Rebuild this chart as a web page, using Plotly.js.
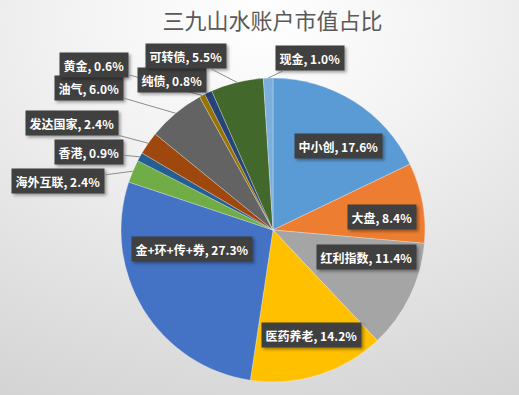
<!DOCTYPE html>
<html>
<head>
<meta charset="utf-8">
<script src="https://cdn.plot.ly/plotly-3.0.1.min.js"></script>
<style>
html,body{margin:0;padding:0;}
#wrap{width:519px;height:395px;background:radial-gradient(ellipse 110% 105% at 50% 5%, #ffffff 0%, #f2f2f2 35%, #d4d4d4 100%);}
#chart{width:519px;height:395px;}
#chart .annotation rect.bg{filter:drop-shadow(2px 2px 1.5px rgba(0,0,0,0.35));}
</style>
</head>
<body>
<div id="wrap"><div id="chart"></div></div>
<script>
// ---- data ----
const categories = ["中小创","大盘","红利指数","医药养老","金+环+传+券","海外互联","香港","发达国家","油气","黄金","纯债","可转债","现金"];
const shares = [17.6, 8.4, 11.4, 14.2, 27.3, 2.4, 0.9, 2.4, 6.0, 0.6, 0.8, 5.5, 1.0];
const chartTitle = "三九山水账户市值占比";

// ---- styling / layout ----
const colors = ["#5B9BD5","#ED7D31","#A5A5A5","#FFC000","#4472C4","#70AD47","#255E91","#9E480E","#636363","#997300","#264478","#43682B","#7CAFDD"];
const W = 519, H = 395;
const cx = 273, cy = 230, R = 152;
// label box centres in pixels; inside labels have no leader line
const labelPos = [
  {x:338,y:146,inside:true},
  {x:382,y:217,inside:true},
  {x:366,y:257,inside:true},
  {x:311,y:335,inside:true},
  {x:192,y:249,inside:true},
  {x:58, y:181,inside:false},
  {x:89, y:152,inside:false},
  {x:72, y:123,inside:false},
  {x:89, y:88, inside:false},
  {x:94, y:65, inside:false},
  {x:172,y:80, inside:false},
  {x:186,y:56, inside:false},
  {x:310,y:58, inside:false}
];

const total = shares.reduce((a,b)=>a+b,0);
const font = "'Noto Sans CJK SC', 'Microsoft YaHei', sans-serif";
const annotations = [];
let cum = 0;
shares.forEach((v,i)=>{
  const mid = (cum + v/2)/total * 2*Math.PI;
  cum += v;
  const txt = "<b>" + categories[i] + ", " + v.toFixed(1) + "%</b>";
  const lp = labelPos[i];
  const base = {
    text: txt, showarrow:false, xref:'paper', yref:'paper',
    font:{family:font,size:12,color:'#ffffff'},
    bgcolor:'#404040', borderpad:3.5, xanchor:'center', yanchor:'middle'
  };
  if (lp.inside) {
    annotations.push(Object.assign({}, base, {x:lp.x/W, y:1-lp.y/H}));
  } else {
    const px = cx + R*Math.sin(mid), py = cy - R*Math.cos(mid);
    annotations.push(Object.assign({}, base, {
      x:px/W, y:1-py/H, showarrow:true, arrowhead:0, arrowwidth:1, arrowcolor:'#8c8c8c',
      axref:'pixel', ayref:'pixel', ax: lp.x-px, ay: lp.y-py, standoff:0
    }));
  }
});

const trace = {
  type:'pie', labels:categories, values:shares, sort:false, direction:'clockwise', rotation:0,
  textinfo:'none', hoverinfo:'label+percent',
  marker:{colors:colors, line:{color:'rgba(255,255,255,0.45)', width:0.6}},
  domain:{x:[(cx-R)/W,(cx+R)/W], y:[1-(cy+R)/H, 1-(cy-R)/H]},
  showlegend:false
};

const layout = {
  width:W, height:H, margin:{l:0,r:0,t:0,b:0},
  paper_bgcolor:'rgba(0,0,0,0)', plot_bgcolor:'rgba(0,0,0,0)',
  title:{text:chartTitle, x:0.525, xanchor:'center', y:1-21/H, yanchor:'middle',
         font:{family:"'Noto Sans CJK SC', sans-serif", size:22, color:'#595959'}},
  annotations:annotations,
  showlegend:false
};
Plotly.newPlot('chart',[trace],layout,{displayModeBar:false,staticPlot:true});
</script>
</body>
</html>
